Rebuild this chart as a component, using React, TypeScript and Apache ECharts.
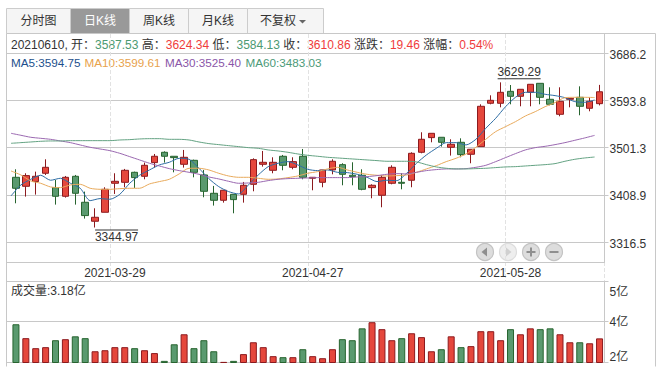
import React, { useEffect, useRef } from "react";
import * as echarts from "echarts";

const dates = ["2021-03-15","2021-03-16","2021-03-17","2021-03-18","2021-03-19","2021-03-22","2021-03-23","2021-03-24","2021-03-25","2021-03-26","2021-03-29","2021-03-30","2021-03-31","2021-04-01","2021-04-02","2021-04-06","2021-04-07","2021-04-08","2021-04-09","2021-04-12","2021-04-13","2021-04-14","2021-04-15","2021-04-16","2021-04-19","2021-04-20","2021-04-21","2021-04-22","2021-04-23","2021-04-26","2021-04-27","2021-04-28","2021-04-29","2021-04-30","2021-05-06","2021-05-07","2021-05-10","2021-05-11","2021-05-12","2021-05-13","2021-05-14","2021-05-17","2021-05-18","2021-05-19","2021-05-20","2021-05-21","2021-05-24","2021-05-25","2021-05-26","2021-05-27","2021-05-28","2021-05-31","2021-06-01","2021-06-02","2021-06-03","2021-06-04","2021-06-07","2021-06-08","2021-06-09","2021-06-10"];
const labelledDates = ["2021-03-29", "2021-04-27", "2021-05-28"];

// [open, close, low, high]
const candles = [
[3443.3,3421.8,3392.4,3459.0],[3425.7,3446.6,3405.5,3451.2],[3434.9,3445.3,3409.4,3454.4],[3451.2,3462.9,3447.9,3478.6],[3423.1,3406.1,3389.8,3438.1],
[3406.1,3443.3,3403.5,3445.9],[3445.3,3412.0,3389.8,3447.9],[3394.4,3368.3,3362.4,3415.3],[3357.2,3365.0,3344.97,3382.6],[3374.8,3419.8,3374.8,3423.8],
[3431.6,3435.5,3410.7,3451.2],[3433.5,3457.0,3423.8,3459.7],[3453.1,3442.7,3422.5,3454.4],[3445.3,3466.8,3439.4,3472.1],[3472.1,3484.5,3462.3,3489.0],
[3492.3,3484.5,3472.1,3494.2],[3484.5,3481.8,3453.1,3484.5],[3468.8,3482.5,3462.3,3496.9],[3476.6,3453.1,3443.3,3477.9],[3447.9,3415.9,3404.2,3457.7],
[3412.0,3398.3,3387.9,3426.4],[3398.3,3417.9,3393.7,3417.9],[3410.0,3399.6,3372.8,3410.0],[3410.0,3427.7,3393.7,3434.2],[3429.6,3477.9,3415.9,3480.5],
[3468.8,3472.7,3464.2,3494.9],[3457.0,3472.7,3451.2,3482.5],[3484.5,3466.8,3457.0,3487.1],[3462.9,3474.0,3459.0,3482.5],[3484.5,3443.3,3439.4,3498.8],
[3441.4,3443.3,3417.9,3443.3],[3433.5,3457.7,3423.8,3457.7],[3457.7,3474.7,3449.2,3478.6],[3468.1,3449.2,3427.7,3470.8],[3447.3,3444.6,3427.7,3472.7],
[3447.3,3419.8,3417.9,3459.0],[3423.1,3427.7,3402.2,3429.6],[3408.1,3443.3,3384.6,3447.9],[3431.6,3462.9,3429.6,3466.8],[3433.5,3431.6,3419.8,3451.2],
[3437.5,3490.3,3423.8,3492.3],[3492.3,3517.8,3490.3,3531.5],[3521.0,3529.5,3511.9,3529.5],[3521.7,3511.9,3503.4,3521.7],[3502.1,3508.0,3485.8,3517.8],
[3511.9,3487.7,3482.5,3519.7],[3488.4,3498.2,3470.8,3498.2],[3503.4,3582.4,3503.4,3586.3],[3588.3,3594.1,3586.3,3603.9],[3588.3,3609.8,3580.4,3629.29],
[3611.7,3602.0,3586.3,3624.1],[3602.0,3615.7,3582.4,3615.7],[3609.8,3625.5,3582.4,3625.5],[3627.4,3600.0,3586.3,3627.4],[3596.1,3586.3,3584.3,3619.6],
[3566.7,3592.2,3562.8,3619.6],[3596.1,3598.0,3580.4,3598.0],[3600.0,3582.4,3564.8,3621.5],[3578.5,3592.2,3572.6,3600.0],[3587.53,3610.86,3584.13,3624.34],
];

const ma5 = [3406.8,3428.3,3439.4,3447.3,3437.5,3441.4,3431.6,3421.8,3397.6,3401.6,3400.3,3410.0,3431.6,3447.3,3457.7,3467.5,3472.7,3480.5,3478.6,3461.0,3440.7,3425.1,3415.3,3410.7,3428.3,3447.9,3464.2,3470.8,3474.0,3467.5,3459.0,3456.4,3457.7,3453.1,3452.5,3449.2,3443.3,3434.9,3437.5,3436.8,3451.2,3470.8,3487.1,3500.1,3511.2,3511.2,3506.7,3517.8,3539.3,3558.9,3581.7,3600.0,3609.8,3609.8,3605.9,3603.3,3599.3,3591.5,3590.2,3594.75];
const ma10 = [3455.7,3447.9,3436.2,3431.6,3424.4,3423.1,3428.3,3429.6,3421.8,3419.8,3419.8,3421.1,3421.8,3421.8,3430.3,3434.9,3439.4,3449.9,3461.0,3461.0,3457.7,3451.2,3445.9,3443.3,3443.3,3441.4,3439.4,3440.1,3442.7,3445.9,3451.2,3454.4,3459.7,3462.9,3457.7,3453.1,3449.2,3447.3,3445.9,3446.6,3447.9,3453.1,3459.7,3466.2,3474.0,3480.6,3489.0,3502.1,3517.8,3532.8,3542.6,3552.3,3563.4,3571.9,3581.7,3589.6,3599.3,3600.0,3600.0,3599.61];
const ma30 = [3529.5,3525.6,3521.7,3519.7,3517.7,3514.5,3511.2,3506.6,3502.1,3498.8,3495.5,3490.3,3483.8,3477.3,3470.8,3465.5,3460.3,3456.4,3453.1,3449.2,3444.0,3440.1,3435.5,3431.6,3432.2,3433.5,3436.8,3439.4,3440.7,3441.4,3442.0,3442.7,3442.7,3442.7,3442.7,3444.0,3444.6,3446.6,3449.2,3450.5,3449.9,3453.1,3456.4,3458.4,3459.7,3459.7,3460.3,3462.9,3466.8,3474.0,3481.9,3489.7,3496.9,3501.4,3504.0,3507.3,3511.2,3515.8,3520.4,3525.40];
const ma60 = [3509.9,3511.2,3512.5,3513.8,3514.5,3514.5,3515.1,3515.1,3515.1,3515.1,3515.1,3516.4,3517.1,3518.4,3519.0,3519.0,3517.7,3517.7,3516.4,3512.5,3509.3,3507.3,3505.3,3503.4,3501.4,3500.1,3496.9,3494.9,3492.3,3489.0,3486.4,3484.5,3482.5,3481.2,3479.9,3478.6,3477.3,3476.0,3474.7,3474.7,3474.7,3473.4,3468.1,3463.6,3461.0,3459.7,3459.7,3460.3,3461.0,3462.3,3463.6,3464.2,3465.5,3466.8,3468.1,3470.1,3474.7,3478.6,3481.2,3483.03];
const volumes = [3.87,3.19,2.70,2.75,3.09,3.14,3.28,3.19,2.55,2.60,2.75,2.75,2.70,2.60,2.46,2.08,2.89,3.38,2.70,3.09,2.55,2.03,2.08,2.41,2.99,2.75,2.31,2.26,2.26,2.65,2.31,2.21,2.65,3.14,3.09,3.67,3.97,3.63,3.09,3.19,3.43,3.24,2.55,2.65,3.28,2.75,2.80,3.53,3.53,3.09,3.63,3.38,3.67,3.63,3.67,3.38,2.99,2.99,2.94,3.18];

const priceTicks = [3686.2, 3593.8, 3501.3, 3408.9, 3316.5];
const volumeTicks = [2, 4, 5.96];
const tabs = ["分时图", "日K线", "周K线", "月K线", "不复权"];

const RED = "#e5473c";
const RED_DARK = "#8c1a1e";
const GREEN = "#5a9a6f";
const GREEN_DARK = "#27642f";
const GRID = "#c8c8c8";
const FONT = '"Liberation Sans", "Noto Sans CJK SC", sans-serif';

const PRICE_MIN = 3277.4;
const PRICE_MAX = 3724;
const VOL_MIN = 2;
const VOL_MAX = 5.96;

const tabEdges = [6.5, 70.5, 129.5, 188.5, 247.5, 323.5];

function buildGraphic() {
  const els: any[] = [];
  tabs.forEach((t, i) => {
    const x0 = tabEdges[i];
    const x1 = tabEdges[i + 1];
    const active = i === 1;
    els.push({
      type: "rect",
      shape: { x: x0, y: 8.5, width: x1 - x0, height: 25 },
      style: { fill: active ? "#999999" : "#f5f5f5", stroke: "#cccccc", lineWidth: 1 },
    });
    els.push({
      type: "text",
      x: i === 4 ? x0 + 12.5 : (x0 + x1) / 2,
      y: 21,
      style: {
        text: t,
        fill: active ? "#ffffff" : "#333333",
        font: `12px ${FONT}`,
        align: i === 4 ? "left" : "center",
        verticalAlign: "middle",
      },
    });
  });
  els.push({
    type: "polygon",
    shape: { points: [[299, 20], [306, 20], [302.5, 23.5]] },
    style: { fill: "#666666" },
  });

  const frame = (x1: number, y1: number, x2: number, y2: number) =>
    els.push({ type: "line", shape: { x1, y1, x2, y2 }, style: { stroke: GRID, lineWidth: 1 } });
  frame(6.5, 33.5, 655.5, 33.5);
  frame(6.5, 33.5, 6.5, 366.5);
  frame(655.5, 33.5, 655.5, 366.5);

  const lab = { fill: "#333333", font: `12px ${FONT}`, verticalAlign: "middle" };
  const g = "#4c9a72";
  const r = "#f03c3c";
  els.push({
    type: "text",
    x: 11,
    y: 45,
    style: {
      ...lab,
      text: "20210610, 开：{g|3587.53} 高：{r|3624.34} 低：{g|3584.13} 收：{r|3610.86} 涨跌：{r|19.46} 涨幅：{r|0.54%}",
      rich: { g: { fill: g, font: `12px ${FONT}` }, r: { fill: r, font: `12px ${FONT}` } },
    },
  });
  const maLabels = [
    { text: "MA5:3594.75", x: 11, fill: "#1d4f8c" },
    { text: "MA10:3599.61", x: 84.5, fill: "#e8a24c" },
    { text: "MA30:3525.40", x: 165, fill: "#8a56a8" },
    { text: "MA60:3483.03", x: 245.5, fill: "#4c9a78" },
  ];
  maLabels.forEach((m) =>
    els.push({
      type: "text",
      x: m.x,
      y: 62,
      style: { text: m.text, fill: m.fill, font: `11.7px ${FONT}`, verticalAlign: "middle" },
    })
  );
  els.push({ type: "text", x: 11, y: 290.5, style: { ...lab, text: "成交量:3.18亿" } });

  // navigation buttons
  const navX = [485, 508, 531, 554];
  navX.forEach((cx, i) => {
    const faded = i === 1;
    els.push({
      type: "circle",
      shape: { cx, cy: 252, r: 8.5 },
      style: { fill: faded ? "#eeeeee" : "#dddddd", stroke: faded ? "#dddddd" : "#c4c4c4", lineWidth: 1.2 },
    });
    const c = faded ? "#d0d0d0" : "#8f8f8f";
    if (i === 0) els.push({ type: "polygon", shape: { points: [[cx - 3.5, 252], [cx + 2, 247.5], [cx + 2, 256.5]] }, style: { fill: c } });
    if (i === 1) els.push({ type: "polygon", shape: { points: [[cx + 3.5, 252], [cx - 2, 247.5], [cx - 2, 256.5]] }, style: { fill: c } });
    if (i === 2) els.push({ type: "rect", shape: { x: cx - 4.5, y: 251, width: 9, height: 2 }, style: { fill: c } });
    if (i === 2) els.push({ type: "rect", shape: { x: cx - 1, y: 247.5, width: 2, height: 9 }, style: { fill: c } });
    if (i === 3) els.push({ type: "rect", shape: { x: cx - 4.5, y: 251, width: 9, height: 2 }, style: { fill: c } });
  });
  return els;
}

export default function App() {
  const ref = useRef<HTMLDivElement>(null);
  useEffect(() => {
    const chart = echarts.init(ref.current!, undefined, { renderer: "svg" });
    const isUp = (i: number) => candles[i][1] >= candles[i][0];
    const hiddenAxis = { show: false };
    const left = 11;
    const right = 61.5;
    const framedLeft = 6.5;
    const mainTop = 34;
    const mainH = 228;
    const volTop = 281.5;
    const volH = 81;
    const lineDates = [...dates, ""];
    const labelIdx = (i: number) => labelledDates.includes(dates[i]);

    const option: any = {
      animation: false,
      backgroundColor: "#ffffff",
      textStyle: { fontFamily: FONT },
      grid: [
        { left: framedLeft, right, top: mainTop, height: mainH },
        { left, right, top: mainTop, height: mainH },
        { left, right, top: mainTop, height: volTop - mainTop },
        { left: framedLeft, right, top: volTop, height: volH },
        { left, right, top: volTop, height: volH },
      ],
      xAxis: [
        {
          gridIndex: 0, type: "category", data: dates,
          axisLine: { show: true, lineStyle: { color: GRID } },
          axisTick: { show: false }, axisLabel: { show: false }, splitLine: { show: false },
        },
        {
          gridIndex: 1, type: "category", data: dates,
          axisLine: { show: false }, axisTick: { show: false }, splitLine: { show: false },
          axisLabel: {
            show: true, interval: (i: number) => labelIdx(i), color: "#333333", fontSize: 12, margin: 5,
            fontFamily: FONT, hideOverlap: false,
          },
        },
        { gridIndex: 1, type: "category", data: lineDates, boundaryGap: false, show: false },
        {
          gridIndex: 2, type: "category", data: dates,
          axisLine: { show: false }, axisTick: { show: false }, axisLabel: { show: false },
          splitLine: { show: true, interval: (i: number) => labelIdx(i), lineStyle: { color: "#e2e2e2", type: "dashed", width: 1 } },
        },
        {
          gridIndex: 3, type: "category", data: dates,
          axisLine: { show: false }, axisTick: { show: false }, axisLabel: { show: false }, splitLine: { show: false },
        },
        {
          gridIndex: 4, type: "category", data: dates,
          axisLine: { show: false }, axisTick: { show: false }, axisLabel: { show: false }, splitLine: { show: false },
        },
      ],
      yAxis: [
        {
          gridIndex: 0, type: "value", position: "right", min: PRICE_MIN, max: PRICE_MAX, scale: true,
          axisLine: { show: true, lineStyle: { color: GRID } },
          axisTick: { show: true, customValues: priceTicks, length: 4, lineStyle: { color: GRID } },
          axisLabel: {
            customValues: priceTicks, formatter: (v: number) => `{p|${v.toFixed(1)}}`,
            rich: { p: { padding: [3, 0, 0, 0], fontSize: 12, color: "#333333", fontFamily: FONT } },
            color: "#333333", fontSize: 12, margin: 5, fontFamily: FONT,
          },
          splitLine: { show: true, lineStyle: { color: GRID, width: 1 } },
        },
        { ...hiddenAxis, gridIndex: 1, type: "value", min: PRICE_MIN, max: PRICE_MAX, scale: true },
        { ...hiddenAxis, gridIndex: 2, type: "value", min: 0, max: 1 },
        {
          gridIndex: 3, type: "value", position: "right", min: VOL_MIN, max: VOL_MAX, scale: true,
          axisLine: { show: true, lineStyle: { color: GRID } },
          axisTick: { show: true, customValues: volumeTicks, length: 4, lineStyle: { color: GRID } },
          axisLabel: {
            customValues: volumeTicks,
            formatter: (v: number) => (v === VOL_MAX ? `{top|${Math.floor(v)}亿}` : `${Math.floor(v)}亿`),
            rich: { top: { lineHeight: 21, fontSize: 12, color: "#333333", fontFamily: FONT } },
            color: "#333333", fontSize: 12, margin: 5,
            fontFamily: FONT, verticalAlignMaxLabel: "top", verticalAlignMinLabel: "bottom",
          },
          splitLine: { show: true, lineStyle: { color: GRID, width: 1 } },
        },
        { ...hiddenAxis, gridIndex: 4, type: "value", min: VOL_MIN, max: VOL_MAX, scale: true },
      ],
      series: [
        {
          type: "candlestick", xAxisIndex: 1, yAxisIndex: 1, data: candles, barWidth: 7, z: 3,
          itemStyle: { color: RED, color0: GREEN, borderColor: RED_DARK, borderColor0: GREEN_DARK, borderWidth: 1 },
          markPoint: {
            silent: true,
            data: [
              {
                coord: [8, 3344.97], value: 3344.97, symbol: "rect", symbolSize: [43, 1], symbolOffset: [21.5, 2.5],
                itemStyle: { color: "#333333" },
                label: { show: true, position: "bottom", distance: 0, color: "#333333", fontSize: 12, fontFamily: FONT, formatter: "3344.97" },
              },
              {
                coord: [49, 3629.29], value: 3629.29, symbol: "rect", symbolSize: [43, 1], symbolOffset: [18.5, -3.5],
                itemStyle: { color: "#333333" },
                label: { show: true, position: "top", distance: 0, color: "#333333", fontSize: 12, fontFamily: FONT, formatter: "3629.29" },
              },
            ],
          },
        },
        ...[
          { name: "MA5", data: ma5, color: "#2e6da4" },
          { name: "MA10", data: ma10, color: "#e8aa5c" },
          { name: "MA30", data: ma30, color: "#9a68b0" },
          { name: "MA60", data: ma60, color: "#63a282" },
        ].map((s) => ({
          type: "line", name: s.name, xAxisIndex: 2, yAxisIndex: 1, data: s.data, smooth: 0.25, showSymbol: false, z: 4,
          lineStyle: { color: s.color, width: 1 }, itemStyle: { color: s.color },
        })),
        {
          type: "bar", xAxisIndex: 5, yAxisIndex: 4, barWidth: 7, z: 3,
          data: volumes.map((v, i) => ({
            value: v,
            itemStyle: {
              color: isUp(i) ? RED : GREEN,
              borderColor: isUp(i) ? RED_DARK : GREEN_DARK,
              borderWidth: 1,
            },
          })),
        },
      ],
      graphic: { elements: buildGraphic() },
    };
    chart.setOption(option);
    return () => chart.dispose();
  }, []);
  return <div ref={ref} style={{ position: "absolute", left: 0, top: 0, width: 666, height: 375 }} />;
}
